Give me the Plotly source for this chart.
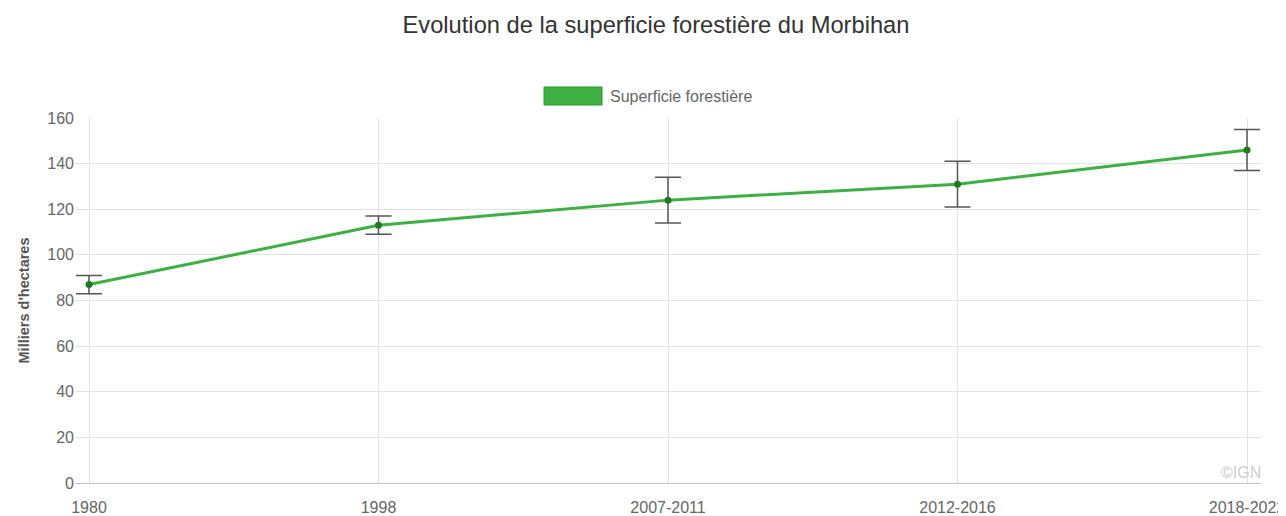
import plotly.graph_objects as go

periods = ["1980", "1998", "2007-2011", "2012-2016", "2018-2022"]
surface = [87, 113, 124, 131, 146]
err_plus = [4, 4, 10, 10, 9]
err_minus = [4, 4, 10, 10, 9]

# page body has an 8px margin: figure is offset by 8px
W, H = 1278, 508
PAD = 14  # extra px each side so end error bars are not clipped
ml, mr, mt, mb = 81 - PAD, 39 - PAD, 110, 33
PW, PH = W - ml - mr, H - mt - mb
n = len(periods)
unit = (PW - 2 * PAD) / (n - 1)
d = PAD / unit


def px(fx):
    return (fx - ml) / PW


def py(fy):
    return (H - mb - fy) / PH


fig = go.Figure()
fig.add_trace(go.Scatter(
    x=list(range(n)), y=surface,
    mode="lines+markers",
    name="Superficie forestière",
    line=dict(color="#3cb043", width=3),
    marker=dict(color="#1f7a1f", size=7),
    error_y=dict(type="data", symmetric=False, array=err_plus, arrayminus=err_minus,
                 color="#555555", thickness=1.5, width=13),
    cliponaxis=False,
    showlegend=False,
))

fig.update_layout(
    width=W, height=H,
    margin=dict(l=ml, r=mr, t=mt, b=mb, autoexpand=False),
    paper_bgcolor="white", plot_bgcolor="white",
    font=dict(family="Liberation Sans, Arial, sans-serif", color="#666666", size=16),
    title=dict(text="Evolution de la superficie forestière du Morbihan",
               x=648 / W, xanchor="center", y=1 - 17 / H, yanchor="middle",
               font=dict(size=23.7, color="#333333")),
    xaxis=dict(
        tickmode="array", tickvals=list(range(n)), ticktext=periods,
        range=[-d, n - 1 + d], showgrid=True, gridcolor="#e3e3e3",
        zeroline=False, showline=False, ticks="outside", ticklen=10,
        tickcolor="rgba(0,0,0,0)",
        tickfont=dict(size=16, color="#666666"),
    ),
    yaxis=dict(
        range=[0, 160], dtick=20, showgrid=True, gridcolor="#e3e3e3",
        zeroline=True, zerolinecolor="#c4c4c4", zerolinewidth=1,
        ticks="", ticklen=0,
        tickfont=dict(size=16, color="#666666"),
        title=dict(text="<b>Milliers d'hectares</b>", standoff=14,
                   font=dict(size=14.5, color="#555555")),
    ),
)

# hide gridline overhang to the right of the last category
fig.add_shape(type="rect", xref="x", yref="paper", layer="between",
              x0=n - 1 + 0.002, x1=n - 1 + d + 0.01, y0=-0.01, y1=1.01,
              fillcolor="white", line=dict(width=0))

# Manual legend (Chart.js-style box)
fig.add_shape(type="rect", xref="paper", yref="paper",
              x0=px(536), x1=px(594), y0=py(97), y1=py(79),
              fillcolor="#3cb043", line=dict(color="#2e9a2e", width=1))
fig.add_annotation(xref="paper", yref="paper",
                   x=px(600), y=py(88),
                   xanchor="left", yanchor="middle", showarrow=False,
                   text="Superficie forestière", font=dict(size=16, color="#666666"))

fig.add_annotation(xref="paper", yref="paper", x=px(1255), y=py(464),
                   xanchor="right", yanchor="middle", showarrow=False,
                   text="©IGN", font=dict(size=16, color="#cccccc"))

fig.write_html("out.html")
